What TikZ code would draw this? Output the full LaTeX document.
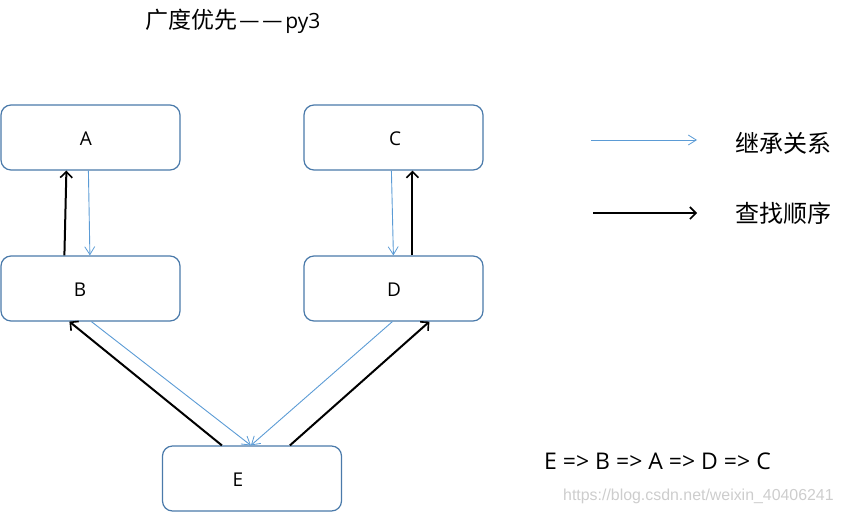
\documentclass[tikz,border=0pt]{standalone}
\usepackage{fontspec}
\setmainfont{Open Sans}
\newfontfamily\cjk{Noto Sans CJK SC}
\newfontfamily\wmfont{Liberation Sans}
\usetikzlibrary{arrows.meta}
\definecolor{boxblue}{RGB}{74,122,170}
\definecolor{inhblue}{RGB}{91,155,213}
\definecolor{wmgray}{RGB}{205,205,205}
\tikzset{
  box/.style={draw=boxblue, line width=1.2pt, rounded corners=10pt, minimum width=179pt, minimum height=65pt, inner sep=0pt, fill=white},
  lbl/.style={font=\fontsize{19}{22}\selectfont},
  inh/.style={draw=inhblue, line width=0.9pt, -{Straight Barb[length=8pt,width=10pt,line width=0.8pt]}},
  look/.style={draw=black, line width=2pt, -{Straight Barb[length=6pt,width=12pt,line width=1.6pt]}},
}
\begin{document}
\begin{tikzpicture}[x=1pt,y=-1pt]
\useasboundingbox (0,0) rectangle (842,514);
% boxes
\node[box, label={[lbl,xshift=-4.5pt,yshift=-1.5pt]center:A}] (A) at (90.5,137.5) {};
\node[box, label={[lbl,xshift=-10.5pt,yshift=-1.5pt]center:B}] (B) at (90.5,288.5) {};
\node[box, label={[lbl,xshift=1.5pt,yshift=-1.5pt]center:C}] (C) at (393.5,137.5) {};
\node[box, label={[lbl,xshift=0.5pt,yshift=-1.5pt]center:D}] (D) at (393.5,288.5) {};
\node[box, label={[lbl,xshift=-14pt,yshift=-1.5pt]center:E}] (E) at (252,478.5) {};
% title
\node[anchor=west, inner sep=0pt] (title) at (145,21) {\cjk\fontsize{23}{27}\selectfont 广度优先\kern2pt—\kern3pt—\kern2pt\rmfamily\fontsize{21}{25}\selectfont py3};
% inheritance arrows (blue)
\draw[inh] ([xshift=88pt]A.south west) -- ([xshift=89.5pt]B.north west);
\draw[inh] ([xshift=88pt]C.south west) -- ([xshift=90pt]D.north west);
\draw[inh] ([xshift=91pt]B.south west) -- ([xshift=89pt]E.north west);
\draw[inh] ([xshift=89pt]D.south west) -- ([xshift=89pt]E.north west);
% lookup arrows (black)
\draw[look] ([xshift=64pt]B.north west) -- ([xshift=66pt]A.south west);
\draw[look] ([xshift=109pt]D.north west) -- ([xshift=109pt]C.south west);
\draw[look] ([xshift=60pt]E.north west) -- ([xshift=69pt]B.south west);
\draw[look] ([xshift=128pt]E.north west) -- ([xshift=126pt]D.south west);
% legend
\coordinate (l1s) at (591,140);
\coordinate (l1e) at (697,140);
\coordinate (l2s) at (593,213);
\coordinate (l2e) at (697,213);
\draw[inh] (l1s) -- (l1e);
\draw[look] (l2s) -- (l2e);
\node[anchor=west, inner sep=0pt, font=\cjk\fontsize{24}{28}\selectfont] (leg1) at (735,143) {继承关系};
\node[anchor=west, inner sep=0pt, font=\cjk\fontsize{24}{28}\selectfont] (leg2) at (735,213) {查找顺序};
% order
\node[anchor=west, inner sep=0pt, font=\fontsize{23}{27}\selectfont] (order) at (544,461) {E => B => A => D => C};
% watermark
\node[anchor=west, inner sep=0pt, text=wmgray, font=\wmfont\fontsize{15.9}{19}\selectfont] (wm) at (563,496) {https://blog.csdn.net/weixin\_40406241};
\end{tikzpicture}
\end{document}
